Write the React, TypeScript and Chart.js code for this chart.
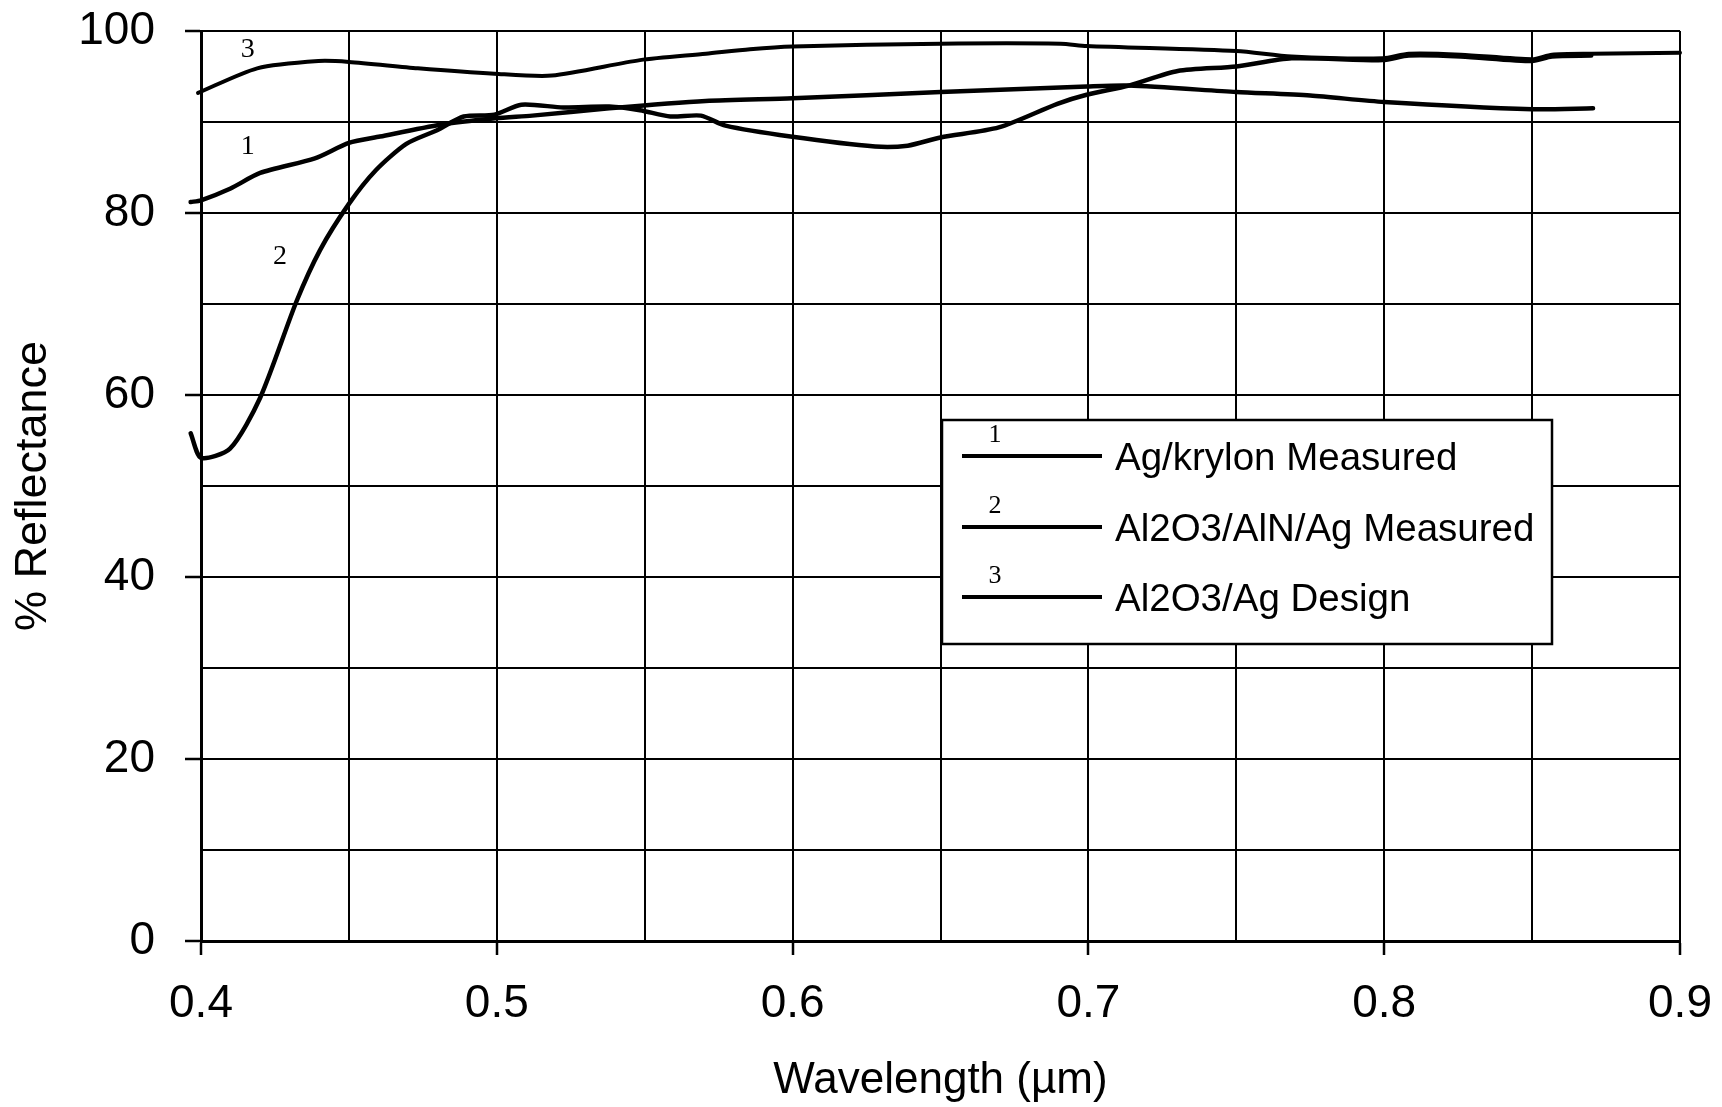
import { useEffect, useRef } from "react";
import { Chart, registerables } from "chart.js";

Chart.register(...registerables);

// ---- data ----
const seriesNames = ["Ag/krylon Measured", "Al2O3/AlN/Ag Measured", "Al2O3/Ag Design"];
const seriesTags = ["1", "2", "3"];

const agKrylonX = [0.3965, 0.4, 0.41, 0.42, 0.4385, 0.45, 0.4605, 0.481, 0.4995, 0.512, 0.538, 0.5706, 0.6, 0.65, 0.6995, 0.7137, 0.75, 0.775, 0.8, 0.85, 0.8706];
const agKrylonY = [81.2, 81.4, 82.7, 84.4, 86.0, 87.7, 88.4, 89.7, 90.4, 90.7, 91.5, 92.3, 92.6, 93.3, 93.9, 94.0, 93.3, 92.9, 92.2, 91.4, 91.5];

const alnX = [0.3965, 0.4, 0.4098, 0.42, 0.4323, 0.4402, 0.45, 0.4591, 0.4694, 0.4798, 0.4888, 0.4992, 0.5083, 0.5225, 0.538, 0.5484, 0.5587, 0.569, 0.5773, 0.5993, 0.6279, 0.6389, 0.65, 0.6697, 0.6895, 0.6994, 0.7137, 0.7302, 0.75, 0.7687, 0.7995, 0.8083, 0.8259, 0.85, 0.8567, 0.87];
const alnY = [55.8, 53.1, 54.1, 59.7, 70.3, 75.9, 81.0, 84.7, 87.6, 89.1, 90.6, 90.8, 91.9, 91.6, 91.7, 91.3, 90.6, 90.7, 89.6, 88.4, 87.3, 87.4, 88.3, 89.4, 92.0, 93.0, 94.0, 95.6, 96.1, 97.0, 96.8, 97.3, 97.2, 96.7, 97.2, 97.3];

const designX = [0.399, 0.419, 0.4397, 0.45, 0.4733, 0.4992, 0.5186, 0.5484, 0.5707, 0.5856, 0.6, 0.65, 0.6906, 0.6994, 0.75, 0.7687, 0.7995, 0.8083, 0.8259, 0.85, 0.8567, 0.87, 0.9];
const designY = [93.2, 95.9, 96.7, 96.6, 95.9, 95.3, 95.1, 96.8, 97.5, 98.0, 98.3, 98.6, 98.6, 98.35, 97.8, 97.2, 97.0, 97.5, 97.4, 96.9, 97.4, 97.5, 97.6];

// curve number annotations (data coordinates)
const tagX = [0.4158, 0.4267, 0.4158];
const tagY = [87.3, 75.2, 98.0];

const xMin = 0.4;
const xMax = 0.9;
const xStep = 0.05;
const yMin = 0;
const yMax = 100;
const yStep = 10;

const xTitle = "Wavelength (µm)";
const yTitle = "% Reflectance";

const SANS = "'Liberation Sans', Arial, Helvetica, sans-serif";
const SERIF = "'Liberation Serif', 'DejaVu Serif', serif";

const toPoints = (xs: number[], ys: number[]) => xs.map((x, i) => ({ x, y: ys[i] }));

const isMajorX = (v: number) => Math.abs(v * 10 - Math.round(v * 10)) < 1e-6;
const isMajorY = (v: number) => Math.abs(v % 20) < 1e-6;

const annotatePlugin = {
  id: "annotate",
  afterDraw(chart: any) {
    const { ctx } = chart;
    const xs = chart.scales.x;
    const ys = chart.scales.y;
    ctx.save();
    ctx.fillStyle = "#000";
    ctx.textAlign = "center";
    ctx.textBaseline = "middle";
    ctx.font = `28px ${SERIF}`;
    tagX.forEach((v, i) => {
      ctx.fillText(seriesTags[i], xs.getPixelForValue(v), ys.getPixelForValue(tagY[i]));
    });

    // legend box
    const L = 942, T = 420, R = 1552, B = 644;
    ctx.fillStyle = "#fff";
    ctx.fillRect(L, T, R - L, B - T);
    ctx.strokeStyle = "#000";
    ctx.lineWidth = 2.5;
    ctx.strokeRect(L, T, R - L, B - T);
    const rowY = [456, 527, 597];
    seriesNames.forEach((name, i) => {
      const yy = rowY[i];
      ctx.beginPath();
      ctx.lineWidth = 4;
      ctx.moveTo(962, yy);
      ctx.lineTo(1102, yy);
      ctx.stroke();
      ctx.fillStyle = "#000";
      ctx.font = `26px ${SERIF}`;
      ctx.textAlign = "center";
      ctx.fillText(seriesTags[i], 995, yy - 21);
      ctx.font = `38.5px ${SANS}`;
      ctx.textAlign = "left";
      ctx.fillText(name, 1115, yy + 3);
    });
    ctx.restore();
  },
};

export default function App() {
  const ref = useRef<HTMLCanvasElement | null>(null);

  useEffect(() => {
    document.body.style.margin = "0";
    document.body.style.overflow = "hidden";
    const canvas = ref.current;
    if (!canvas) return;
    Chart.defaults.font.family = SANS;
    Chart.defaults.color = "#000";

    const lineDs = (label: string, xs: number[], ys: number[], width: number) => ({
      label,
      data: toPoints(xs, ys),
      borderColor: "#000",
      backgroundColor: "#000",
      borderWidth: width,
      pointRadius: 0,
      tension: 0.25,
      fill: false,
      clip: false as any,
      borderCapStyle: "round" as const,
      borderJoinStyle: "round" as const,
    });

    const chart = new Chart(canvas, {
      type: "line",
      data: {
        datasets: [
          lineDs(seriesNames[0], agKrylonX, agKrylonY, 4.5),
          lineDs(seriesNames[1], alnX, alnY, 4.5),
          lineDs(seriesNames[2], designX, designY, 4),
        ],
      },
      options: {
        responsive: false,
        animation: false,
        devicePixelRatio: 1,
        layout: { padding: { top: 31, right: 42, left: 0, bottom: 0 } },
        plugins: {
          legend: { display: false },
          tooltip: { enabled: false },
        },
        scales: {
          x: {
            type: "linear",
            min: xMin,
            max: xMax,
            afterFit: (s: any) => {
              s.height = 166;
              s.paddingLeft = 0;
              s.paddingRight = 0;
            },
            ticks: {
              stepSize: xStep,
              autoSkip: false,
              maxRotation: 0,
              padding: 22,
              font: { size: 46 },
              color: "#000",
              callback: (v: any) => (isMajorX(Number(v)) ? Number(v).toFixed(1) : ""),
            },
            grid: {
              color: "#000",
              lineWidth: 2,
              drawTicks: true,
              tickLength: 14,
              tickWidth: 2.5,
              tickColor: (c: any) => (c.tick && isMajorX(c.tick.value) ? "#000" : "rgba(0,0,0,0)"),
            },
            border: { display: true, color: "#000", width: 3 },
            title: {
              display: true,
              text: xTitle,
              font: { size: 44 },
              color: "#000",
              padding: { top: 30, bottom: 0 },
            },
          },
          y: {
            type: "linear",
            min: yMin,
            max: yMax,
            afterFit: (s: any) => {
              s.width = 201;
              s.paddingTop = 0;
              s.paddingBottom = 0;
            },
            ticks: {
              stepSize: yStep,
              autoSkip: false,
              padding: 30,
              font: { size: 46 },
              color: "#000",
              callback: (v: any) => (isMajorY(Number(v)) ? String(v) : ""),
            },
            grid: {
              color: "#000",
              lineWidth: 2,
              drawTicks: true,
              tickLength: 16,
              tickWidth: 2.5,
              tickColor: (c: any) => (c.tick && isMajorY(c.tick.value) ? "#000" : "rgba(0,0,0,0)"),
            },
            border: { display: true, color: "#000", width: 3 },
            title: {
              display: true,
              text: yTitle,
              font: { size: 45 },
              color: "#000",
              padding: { top: 7, bottom: 0 },
            },
          },
        },
      },
      plugins: [annotatePlugin],
    });

    return () => chart.destroy();
  }, []);

  return <canvas ref={ref} width={1722} height={1107} style={{ display: "block" }} />;
}
